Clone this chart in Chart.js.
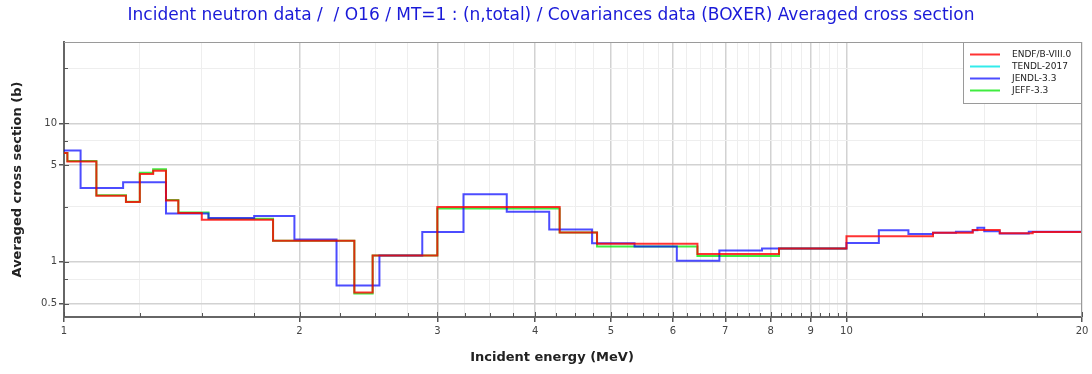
<!DOCTYPE html>
<html>
<head>
<meta charset="utf-8">
<script src="https://cdn.jsdelivr.net/npm/chart.js@4.4.1/dist/chart.umd.min.js"></script>
<style>
  html, body { margin: 0; padding: 0; background: #fff; }
  #wrap { width: 1092px; height: 374px; position: relative; }
</style>
</head>
<body>
<div id="wrap"><canvas id="xsChart"></canvas></div>
<script>
// group boundaries (MeV) and averaged cross sections (b), one pair per evaluation
const endfBounds = [1.0, 1.01, 1.1, 1.2, 1.25, 1.3, 1.35, 1.4, 1.5, 1.85, 2.35, 2.48, 3.0, 4.3, 4.8, 6.45, 8.2, 10.0, 12.9, 14.5, 15.7, 17.3, 20.0];
const endfValues = [6.1, 5.3, 3.0, 2.7, 4.3, 4.55, 2.77, 2.25, 2.01, 1.42, 0.60, 1.11, 2.49, 1.63, 1.35, 1.14, 1.25, 1.53, 1.62, 1.70, 1.61, 1.64];

const tendlBounds = [];
const tendlValues = [];

const jendlBounds = [1.0, 1.05, 1.19, 1.35, 1.53, 1.75, 1.97, 2.23, 2.53, 2.87, 3.24, 3.68, 4.17, 4.73, 5.36, 6.07, 6.88, 7.8, 10.0, 11.0, 12.0, 12.9, 13.8, 14.5, 14.7, 15.0, 15.7, 17.1, 20.0];
const jendlValues = [6.36, 3.41, 3.76, 2.23, 2.07, 2.14, 1.45, 0.675, 1.11, 1.64, 3.07, 2.30, 1.71, 1.36, 1.29, 1.02, 1.21, 1.25, 1.37, 1.69, 1.59, 1.62, 1.65, 1.69, 1.76, 1.66, 1.60, 1.65];

const jeffBounds = [1.0, 1.01, 1.1, 1.2, 1.25, 1.3, 1.35, 1.4, 1.53, 1.85, 2.35, 2.48, 3.0, 4.3, 4.8, 6.45, 8.2, 10.0];
const jeffValues = [6.1, 5.35, 3.02, 2.72, 4.4, 4.65, 2.8, 2.27, 2.05, 1.42, 0.59, 1.11, 2.43, 1.63, 1.29, 1.10, 1.25];

const libLabels = ['ENDF/B-VIII.0', 'TENDL-2017', 'JENDL-3.3', 'JEFF-3.3'];
const libColors = ['rgba(255,0,0,0.8)', 'rgba(0,230,230,0.8)', 'rgba(0,0,255,0.7)', 'rgba(0,230,0,0.75)'];

// axis ticks: labelled ones plus the unlabelled minor marks
const xLabelled = [1, 2, 3, 4, 5, 6, 7, 8, 9, 10, 20];
const xMinor = [1.25, 1.5, 1.75, 2.25, 2.5, 2.75, 3.25, 3.5, 3.75, 4.25, 4.5, 4.75, 5.25, 5.5, 5.75,
                6.25, 6.5, 6.75, 7.25, 7.5, 7.75, 8.25, 8.5, 8.75, 9.25, 9.5, 9.75, 12.5, 15, 17.5];
const yLabelled = [0.5, 1, 5, 10];
const yMinor = [0.75, 2.5, 7.5, 25];

const titleText = 'Incident neutron data /  / O16 / MT=1 : (n,total) / Covariances data (BOXER) Averaged cross section';
const xTitle = 'Incident energy (MeV)';
const yTitle = 'Averaged cross section (b)';

// histogram points: each value held from its lower bound to the next bound
function steps(bounds, values) {
    if (!values.length) return [];
    const pts = values.map((v, i) => ({ x: bounds[i], y: v }));
    pts.push({ x: bounds[bounds.length - 1], y: values[values.length - 1] });
    return pts;
}

const series = [
    steps(endfBounds, endfValues),
    steps(tendlBounds, tendlValues),
    steps(jendlBounds, jendlValues),
    steps(jeffBounds, jeffValues)
];

function tickList(labelled, minor) {
    return labelled.concat(minor).sort((a, b) => a - b).map(v => ({ value: v }));
}

// frame, inner tick marks, x title and the boxed legend
const decor = {
    id: 'decor',
    afterDraw(chart) {
        const { ctx, chartArea: a, scales } = chart;
        ctx.save();
        ctx.strokeStyle = '#9a9a9a';
        ctx.lineWidth = 1;
        ctx.beginPath();
        ctx.moveTo(a.left, a.top + 0.5);
        ctx.lineTo(a.right - 0.5, a.top + 0.5);
        ctx.lineTo(a.right - 0.5, a.bottom);
        ctx.stroke();

        ctx.strokeStyle = '#555';
        ctx.lineWidth = 1;
        ctx.beginPath();
        scales.y.ticks.forEach(t => {
            const y = Math.round(scales.y.getPixelForValue(t.value)) + 0.5;
            ctx.moveTo(a.left, y);
            ctx.lineTo(a.left + (yLabelled.includes(t.value) ? 5 : 4), y);
        });
        scales.x.ticks.forEach(t => {
            const x = Math.round(scales.x.getPixelForValue(t.value)) + 0.5;
            ctx.moveTo(x, a.bottom);
            ctx.lineTo(x, a.bottom - (xLabelled.includes(t.value) ? 5 : 4));
        });
        ctx.stroke();

        ctx.fillStyle = '#222';
        ctx.font = 'bold 13px "DejaVu Sans"';
        ctx.textAlign = 'center';
        ctx.textBaseline = 'middle';
        ctx.fillText(xTitle, 552, 358);

        // legend box in the upper right corner of the plot
        const bx = 963, by = a.top, bw = a.right - bx, bh = 62;
        ctx.fillStyle = '#fff';
        ctx.fillRect(bx, by, bw, bh);
        ctx.strokeStyle = '#9a9a9a';
        ctx.strokeRect(bx + 0.5, by + 0.5, bw - 1, bh - 1);
        ctx.font = '9px "DejaVu Sans"';
        ctx.textAlign = 'left';
        chart.data.datasets.forEach((ds, i) => {
            const y = by + 12.5 + i * 12;
            ctx.strokeStyle = ds.borderColor;
            ctx.lineWidth = 2;
            ctx.beginPath();
            ctx.moveTo(bx + 7, y);
            ctx.lineTo(bx + 37, y);
            ctx.stroke();
            ctx.fillStyle = '#222';
            ctx.fillText(ds.label, bx + 49, y);
        });
        ctx.restore();
    }
};

new Chart(document.getElementById('xsChart'), {
    type: 'line',
    data: {
        datasets: series.map((pts, i) => ({
            label: libLabels[i],
            data: pts,
            borderColor: libColors[i],
            backgroundColor: libColors[i],
            borderWidth: 2,
            pointRadius: 0,
            stepped: true,
            fill: false
        }))
    },
    options: {
        responsive: true,
        maintainAspectRatio: false,
        animation: false,
        layout: { padding: { left: 20, right: 10, top: 0, bottom: 0 } },
        plugins: {
            legend: { display: false },
            tooltip: { enabled: false },
            title: {
                display: true,
                text: titleText,
                color: '#1a1ad8',
                font: { family: 'DejaVu Sans', size: 17, weight: 'normal' },
                padding: { top: 5, bottom: 16.6 }
            }
        },
        scales: {
            x: {
                type: 'logarithmic',
                min: 1,
                max: 20,
                afterFit: s => { s.height = 57; },
                afterBuildTicks: s => { s.ticks = tickList(xLabelled, xMinor); },
                border: { color: '#666', width: 2 },
                grid: {
                    color: c => xLabelled.includes(c.tick.value) ? '#d2d2d2' : '#eeeeee',
                    lineWidth: c => xLabelled.includes(c.tick.value) ? 1.5 : 1,
                    tickLength: 5,
                    tickColor: c => xLabelled.includes(c.tick.value) ? '#555' : 'rgba(0,0,0,0)'
                },
                ticks: {
                    autoSkip: false,
                    maxRotation: 0,
                    padding: 3,
                    color: '#444',
                    font: { family: 'DejaVu Sans', size: 10 },
                    major: { enabled: false },
                    callback: v => xLabelled.includes(v) ? String(v) : ''
                }
            },
            y: {
                type: 'logarithmic',
                min: 0.4,
                max: 38.6,
                afterFit: s => { s.width = 44; },
                afterBuildTicks: s => { s.ticks = tickList(yLabelled, yMinor); },
                border: { color: '#666', width: 2 },
                grid: {
                    color: c => yLabelled.includes(c.tick.value) ? '#d2d2d2' : '#eeeeee',
                    lineWidth: c => yLabelled.includes(c.tick.value) ? 1.5 : 1,
                    tickLength: 5,
                    tickColor: c => yLabelled.includes(c.tick.value) ? '#555' : 'rgba(0,0,0,0)'
                },
                ticks: {
                    autoSkip: false,
                    padding: 2,
                    color: '#444',
                    font: { family: 'DejaVu Sans', size: 10 },
                    major: { enabled: false },
                    callback: v => yLabelled.includes(v) ? String(v) : ''
                },
                title: {
                    display: true,
                    text: yTitle,
                    color: '#222',
                    font: { family: 'DejaVu Sans', size: 13, weight: 'bold' },
                    padding: { top: -9.8, bottom: 0 }
                }
            }
        }
    },
    plugins: [decor]
});
</script>
</body>
</html>
